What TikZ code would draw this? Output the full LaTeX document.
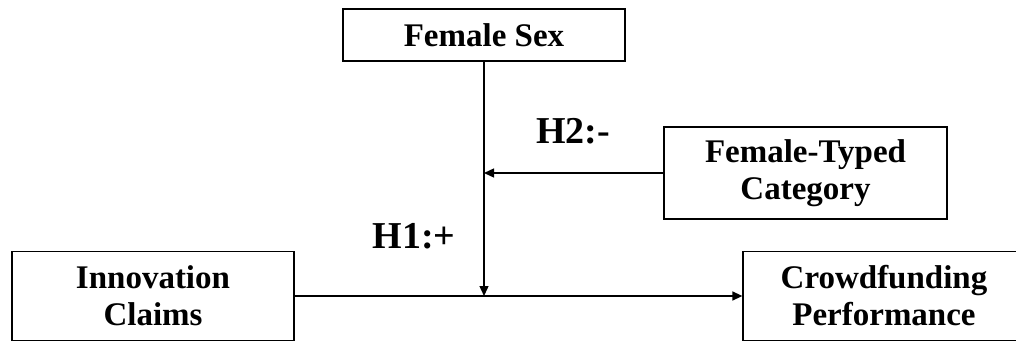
\documentclass[tikz,border=0pt]{standalone}
\usepackage{fontspec}
\setmainfont{Liberation Serif}
\usetikzlibrary{arrows.meta}
\begin{document}
\begin{tikzpicture}[x=1pt,y=-1pt,
 box/.style={draw, line width=1.3pt, align=center, font=\bfseries\fontsize{33}{37}\selectfont, inner sep=0pt},
 lbl/.style={font=\bfseries\fontsize{38}{40}\selectfont, inner sep=0pt},
 conn/.style={line width=1.4pt, -{Triangle[length=10pt,width=9pt]}}]
\useasboundingbox (0,0) rectangle (1016,342);
\node[box, minimum width=282pt, minimum height=52pt] (sex) at (484,35) {Female Sex};
\node[box, minimum width=283pt, minimum height=92pt] (cat) at (805.5,173) {Female-Typed\\Category};
\node[box, minimum width=282pt, minimum height=89pt] (inn) at (153,296) {Innovation\\Claims};
\node[box, minimum width=282pt, minimum height=89pt] (crowd) at (884,296) {Crowdfunding\\Performance};
\coordinate (j) at (sex.south |- inn.east);
\coordinate (k) at (sex.south |- cat.west);
\draw[conn] (sex.south) -- (j);
\draw[conn] (cat.west) -- (k);
\draw[conn] (inn.east) -- (crowd.west);
\node[lbl] (h2) at (573,131) {H2:-};
\node[lbl] (h1) at (414,236) {H1:+};
\end{tikzpicture}
\end{document}
